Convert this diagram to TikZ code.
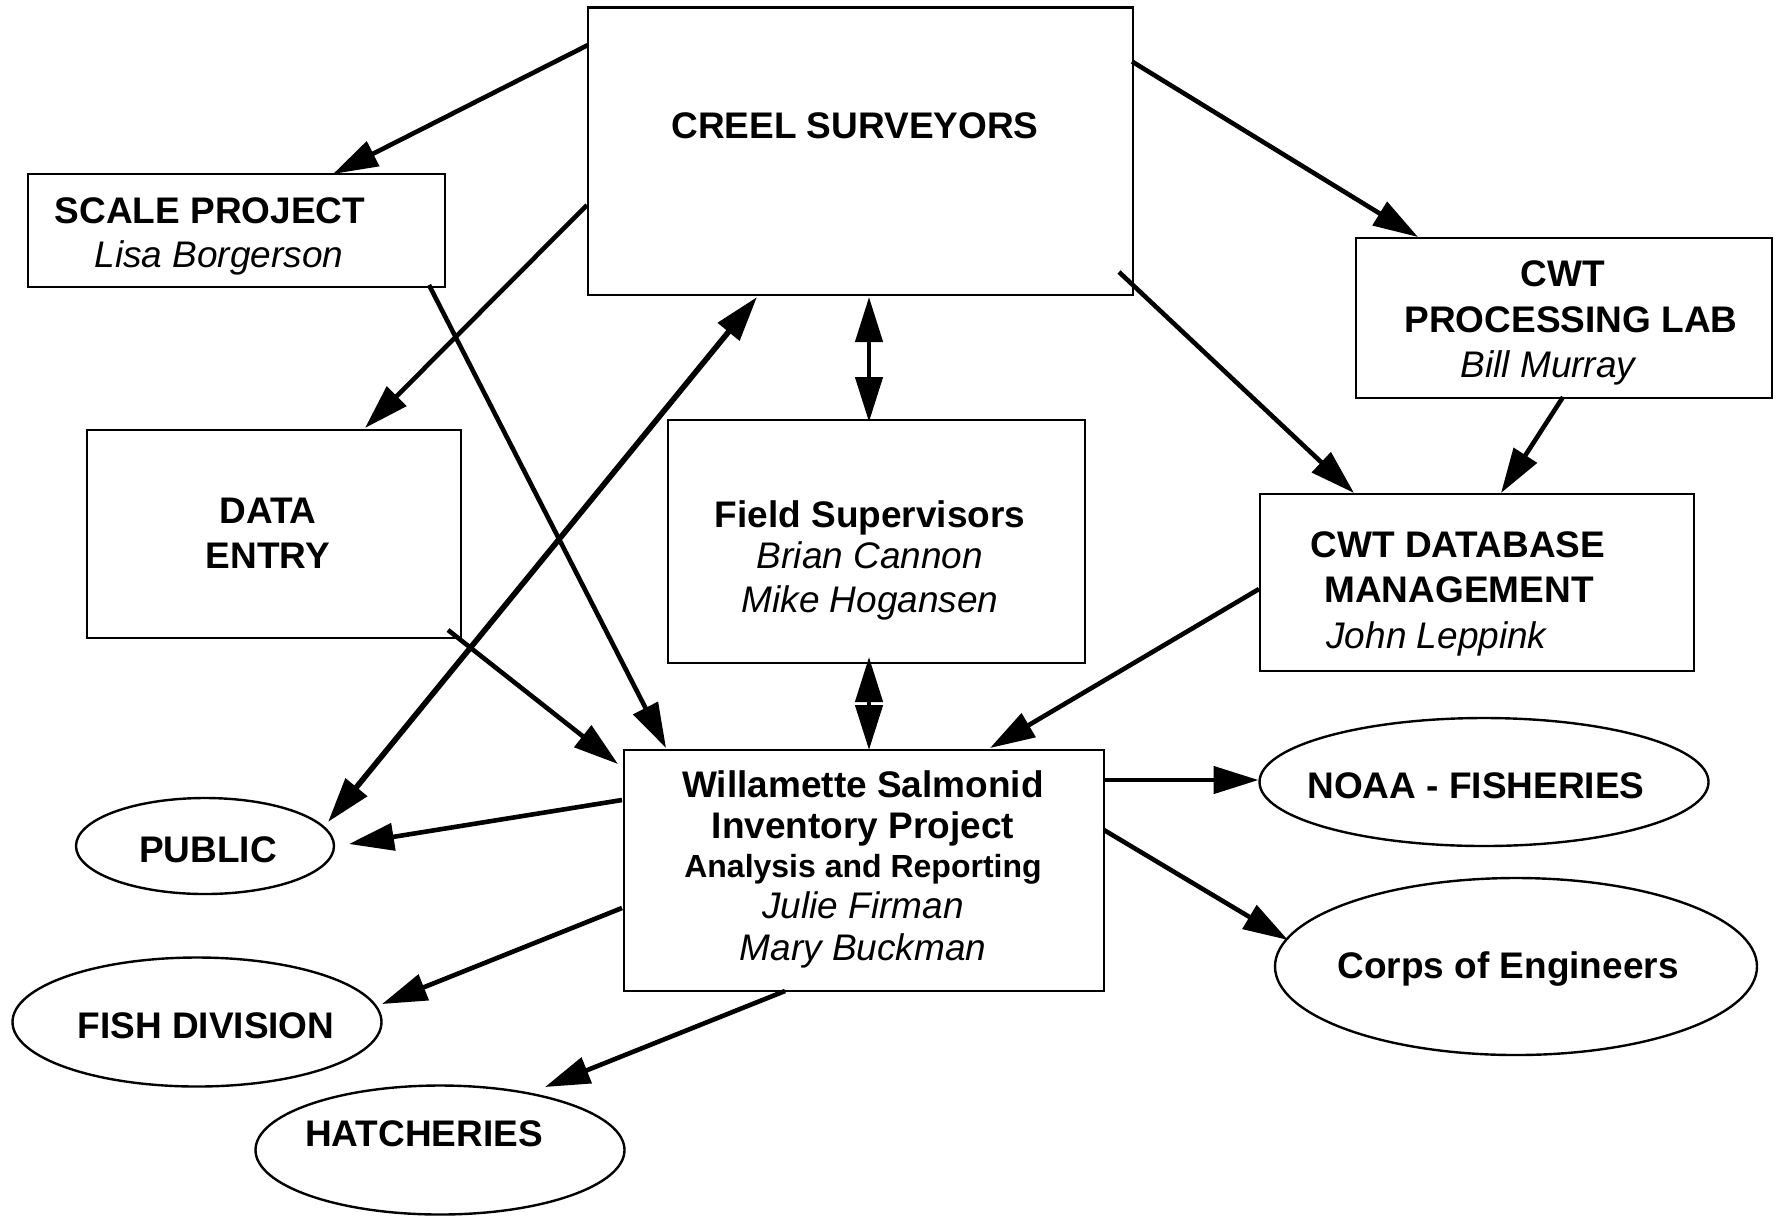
\documentclass[tikz,border=0pt]{standalone}
\usepackage{fontspec}
\setmainfont{Liberation Sans}
\usetikzlibrary{arrows.meta,shapes.geometric,calc}
\begin{document}
\begin{tikzpicture}[x=0.5pt,y=-0.5pt,
  box/.style={draw,line width=1.4pt,rectangle,inner sep=0pt,outer sep=0pt},
  oval/.style={draw,line width=1.2pt,ellipse,inner sep=0pt,outer sep=0pt},
  lbl/.style={anchor=base,inner sep=0pt,font=\bfseries\fontsize{18.5}{21}\selectfont},
  lblsmall/.style={anchor=base,inner sep=0pt,font=\bfseries\fontsize{16}{19}\selectfont},
  nm/.style={anchor=base,inner sep=0pt,font=\itshape\fontsize{18.5}{21}\selectfont},
  >={Triangle[length=22.5pt,width=13.5pt]},
  arr/.style={line width=2.3pt,->},
  darr/.style={line width=2.3pt,<->},
  thickdarr/.style={line width=2.8pt,<->}]
\useasboundingbox (0,0) rectangle (1776,1217);

% boxes
\node[box,minimum width=272.5pt,minimum height=143.75pt] (creel) at (860.5,151.25) {};
\node[box,minimum width=208.5pt,minimum height=56.5pt] (scale) at (236.5,230.5) {};
\node[box,minimum width=208pt,minimum height=80pt] (cwtlab) at (1564,318) {};
\node[box,minimum width=187pt,minimum height=104pt] (data) at (274,534) {};
\node[box,minimum width=208.5pt,minimum height=121.5pt] (field) at (876.5,541.5) {};
\node[box,minimum width=217pt,minimum height=88.5pt] (cwtdb) at (1477,582.5) {};
\node[box,minimum width=240pt,minimum height=120.5pt] (wsip) at (864,870.5) {};

% ellipses
\node[oval,minimum width=224.5pt,minimum height=64pt] (noaa) at (1484,782) {};
\node[oval,minimum width=129pt,minimum height=48pt] (public) at (205,846) {};
\node[oval,minimum width=184.5pt,minimum height=64.5pt] (fish) at (197,1022) {};
\node[oval,minimum width=184.5pt,minimum height=64.5pt] (hatch) at (440,1150) {};
\node[oval,minimum width=241pt,minimum height=88.5pt] (corps) at (1516,966.5) {};

% texts
\node[lbl] (creelT) at (855,138) {CREEL SURVEYORS};
\node[lbl] (scaleT1) at (210,223) {SCALE PROJECT};
\node[nm] (scaleT2) at (219,267) {Lisa Borgerson};
\node[lbl] (labT1) at (1563,286) {CWT};
\node[lbl] (labT2) at (1571,332) {PROCESSING LAB};
\node[nm] (labT3) at (1548,377) {Bill Murray};
\node[lbl] (dataT1) at (268,523) {DATA};
\node[lbl] (dataT2) at (268,568) {ENTRY};
\node[lbl] (fieldT1) at (870,527) {Field Supervisors};
\node[nm] (fieldT2) at (870,568) {Brian Cannon};
\node[nm] (fieldT3) at (870,612) {Mike Hogansen};
\node[lbl] (dbT1) at (1458,557) {CWT DATABASE};
\node[lbl] (dbT2) at (1459,602) {MANAGEMENT};
\node[nm,anchor=base west] (dbT3) at (1326,648) {John Leppink};
\node[lbl] (wsipT1) at (863,797) {Willamette Salmonid};
\node[lbl] (wsipT2) at (863,838) {Inventory Project};
\node[lblsmall] (wsipT3) at (863,877) {Analysis and Reporting};
\node[nm] (wsipT4) at (863,918) {Julie Firman};
\node[nm] (wsipT5) at (863,960) {Mary Buckman};
\node[lbl] (noaaT) at (1476,798) {NOAA - FISHERIES};
\node[lbl] (corpsT) at (1508,978) {Corps of Engineers};
\node[lbl] (publicT) at (208,862) {PUBLIC};
\node[lbl] (fishT) at (206,1038) {FISH DIVISION};
\node[lbl] (hatchT) at (424,1146) {HATCHERIES};

% connectors
\draw[arr] ($(creel.north west)+(0,37.5)$) -- ($(scale.north west)+(305,0)$);
\draw[arr] ($(creel.north west)+(-1,197.5)$) -- ($(data.north west)+(278,-2)$);
\draw[arr] ($(scale.south east)+(-16,-2)$) -- ($(wsip.north west)+(42,-2)$);
\draw[arr] ($(data.south east)+(-13,-8)$) -- ($(wsip.north west)+(-6,14)$);
\draw[arr] ($(creel.north east)+(-1,54)$) -- ($(cwtlab.north west)+(62,-1)$);
\draw[arr] ($(creel.south east)+(-14,-23)$) -- ($(cwtdb.north west)+(94,-1)$);
\draw[arr] ($(cwtlab.south west)+(207,-1)$) -- ($(cwtdb.north west)+(241,-1)$);
\draw[darr] ($(creel.south west)+(281,2)$) -- ($(field.north west)+(201,2)$);
\draw[darr] ($(field.south west)+(201,-6)$) -- ($(wsip.north west)+(245,0)$);
\draw[thickdarr] ($(public.center)+(123,-24)$) -- ($(creel.south west)+(169,2)$);
\draw[arr] ($(cwtdb.west)+(-1,6.5)$) -- ($(wsip.north west)+(366,-2)$);
\draw[arr] ($(wsip.north east)+(0,30)$) -- ($(noaa.west)+(-1,-2)$);
\draw[arr] ($(wsip.north east)+(0,80)$) -- ($(corps.center)+(-228,-26.5)$);
\draw[arr] ($(wsip.north west)+(-2,50)$) -- ($(public.center)+(144,-2)$);
\draw[arr] ($(wsip.north west)+(-2,158)$) -- ($(fish.center)+(185,-18)$);
\draw[arr] ($(wsip.south west)+(161,0)$) -- ($(hatch.center)+(105,-63)$);
\end{tikzpicture}
\end{document}
